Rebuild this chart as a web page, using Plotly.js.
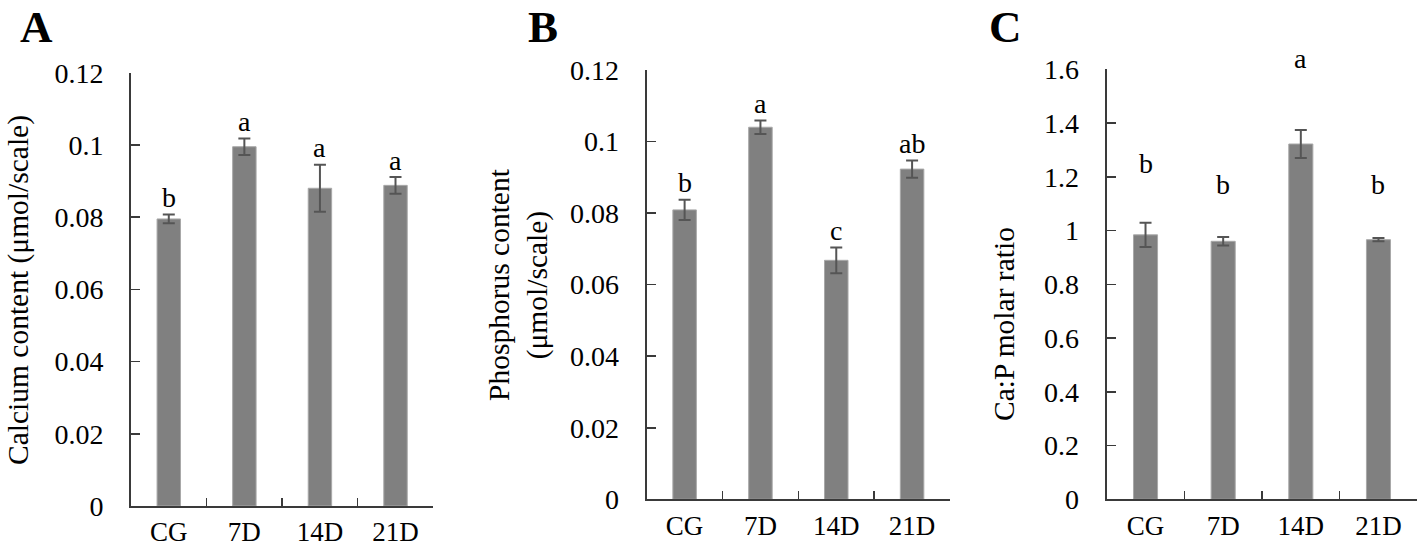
<!DOCTYPE html>
<html>
<head>
<meta charset="utf-8">
<script src="https://cdn.plot.ly/plotly-3.0.1.min.js"></script>
<style>html,body{margin:0;padding:0;background:#fff;}#chart{width:1418px;height:548px;}</style>
</head>
<body>
<div id="chart"></div>
<script>
// ---- data ----
const categories = ['CG', '7D', '14D', '21D'];

const calciumValues = [0.0795, 0.0995, 0.0880, 0.0888];
const calciumErrors = [0.0012, 0.0023, 0.0065, 0.0023];
const calciumLetters = ['b', 'a', 'a', 'a'];

const phosphorusValues = [0.0809, 0.1040, 0.0668, 0.0923];
const phosphorusErrors = [0.0028, 0.0019, 0.0036, 0.0024];
const phosphorusLetters = ['b', 'a', 'c', 'ab'];

const ratioValues = [0.984, 0.960, 1.322, 0.966];
const ratioErrors = [0.045, 0.016, 0.052, 0.006];
const ratioLetters = ['b', 'b', 'a', 'b'];
const ratioLetterHeights = [1.25, 1.17, 1.64, 1.17];

const contentRange = [0, 0.12];
const ratioRange = [0, 1.6];
const contentTicks = [0, 0.02, 0.04, 0.06, 0.08, 0.1, 0.12];
const contentTickText = ['0', '0.02', '0.04', '0.06', '0.08', '0.1', '0.12'];
const ratioTicks = [0, 0.2, 0.4, 0.6, 0.8, 1, 1.2, 1.4, 1.6];
const ratioTickText = ['0', '0.2', '0.4', '0.6', '0.8', '1', '1.2', '1.4', '1.6'];

const panelLabels = ['A', 'B', 'C'];
const yTitles = ['Calcium content (μmol/scale)', 'Phosphorus content<br>(μmol/scale)', 'Ca:P molar ratio'];

// ---- styling ----
const W = 1418, H = 548;
const FONT = '"Liberation Serif", "Times New Roman", serif';
const AXC = '#3a3a3a';
const px = v => v / W;
const py = v => 1 - v / H;

function bar(x, y, errs, xa, ya) {
  return {
    type: 'bar', x: x, y: y, xaxis: xa, yaxis: ya, width: 0.31,
    marker: { color: '#808080', line: { color: '#a8a8a8', width: 1 } },
    error_y: { type: 'data', array: errs, visible: true, color: '#555555', thickness: 2, width: 6 },
    hoverinfo: 'skip', showlegend: false
  };
}

const data = [
  bar(categories, calciumValues, calciumErrors, 'x', 'y'),
  bar(categories, phosphorusValues, phosphorusErrors, 'x2', 'y2'),
  bar(categories, ratioValues, ratioErrors, 'x3', 'y3')
];

function xax(d0, d1, anchor) {
  return {
    domain: [px(d0), px(d1)], anchor: anchor, type: 'category', range: [-0.5, 3.5],
    showline: true, linecolor: AXC, linewidth: 2,
    ticks: 'inside', tickson: 'boundaries', ticklen: 8, tickwidth: 1.5, tickcolor: AXC,
    showgrid: false, zeroline: false, fixedrange: true,
    tickfont: { family: FONT, size: 27, color: '#000' }, ticklabelstandoff: 1
  };
}
function yax(t0, t1, anchor, range, tv, tt) {
  return {
    domain: [py(t1), py(t0)], anchor: anchor, range: range,
    tickmode: 'array', tickvals: tv, ticktext: tt,
    showline: true, linecolor: AXC, linewidth: 2,
    ticks: 'inside', ticklen: 9, tickwidth: 1.5, tickcolor: AXC,
    showgrid: false, zeroline: false, fixedrange: true,
    tickfont: { family: FONT, size: 28, color: '#000' }, ticklabelstandoff: 20
  };
}

const annotations = [];
function letters(labels, vals, errs, xr, yr) {
  labels.forEach((t, i) => annotations.push({
    xref: xr, yref: yr, x: categories[i], y: vals[i] + errs[i], text: t,
    showarrow: false, xanchor: 'center', yanchor: 'middle', yshift: 17,
    font: { family: FONT, size: 28, color: '#000' }
  }));
}
letters(calciumLetters, calciumValues, calciumErrors, 'x', 'y');
letters(phosphorusLetters, phosphorusValues, phosphorusErrors, 'x2', 'y2');
// panel C letters sit at fixed heights (one above the axis top), placed in the y3 domain frame
ratioLetters.forEach((t, i) => annotations.push({
  xref: 'x3', yref: 'y3 domain', x: categories[i],
  y: (ratioLetterHeights[i] - ratioRange[0]) / (ratioRange[1] - ratioRange[0]), text: t,
  showarrow: false, xanchor: 'center', yanchor: 'middle',
  font: { family: FONT, size: 28, color: '#000' }
}));

// panel letters
[[36, 27], [543, 27], [1005, 27]].forEach((p, i) => annotations.push({
  xref: 'paper', yref: 'paper', x: px(p[0]), y: py(p[1]), text: '<b>' + panelLabels[i] + '</b>',
  showarrow: false, xanchor: 'center', yanchor: 'middle',
  font: { family: FONT, size: 45, color: '#000' }
}));

// y-axis titles
[[18, 290], [518, 285], [1004, 324]].forEach((p, i) => annotations.push({
  xref: 'paper', yref: 'paper', x: px(p[0]), y: py(p[1]), text: yTitles[i],
  showarrow: false, xanchor: 'center', yanchor: 'middle', textangle: -90,
  font: { family: FONT, size: 29.5, color: '#000' }
}));

const layout = {
  width: W, height: H,
  margin: { l: 0, r: 0, t: 0, b: 0, pad: 0 },
  paper_bgcolor: '#fff', plot_bgcolor: '#fff',
  showlegend: false,
  xaxis: xax(131, 433.3, 'y'),
  yaxis: yax(72.7, 506, 'x', contentRange, contentTicks, contentTickText),
  xaxis2: xax(646.7, 950, 'y2'),
  yaxis2: yax(70, 499.3, 'x2', contentRange, contentTicks, contentTickText),
  xaxis3: xax(1106.7, 1417.3, 'y3'),
  yaxis3: yax(69.3, 499.3, 'x3', ratioRange, ratioTicks, ratioTickText),
  annotations: annotations
};

Plotly.newPlot('chart', data, layout, { displayModeBar: false, staticPlot: true });
</script>
</body>
</html>
